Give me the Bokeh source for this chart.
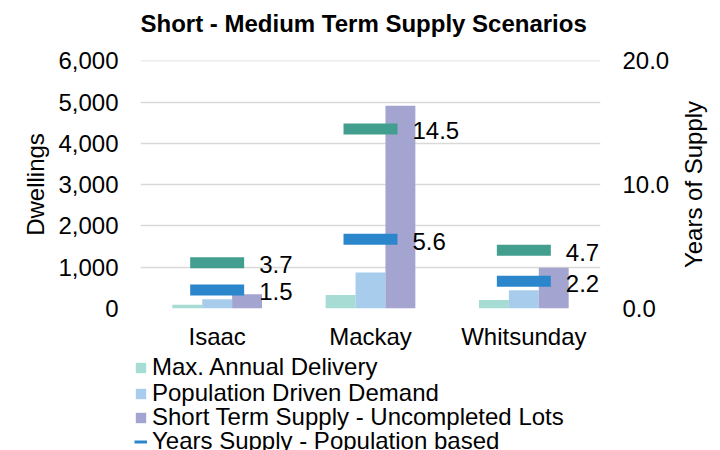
import math
from bokeh.plotting import figure
from bokeh.models import (FactorRange, Range1d, LinearAxis, FixedTicker, Label, Title,
                          NumeralTickFormatter, Legend, LegendItem, ColumnDataSource)
from bokeh.transform import dodge
from bokeh.core.properties import value
from bokeh.embed import file_html
from bokeh.resources import INLINE

# ---------------- data ----------------
councils = ["Isaac", "Mackay", "Whitsunday"]
max_annual_delivery = [90, 330, 205]
population_driven_demand = [225, 870, 440]
short_term_supply = [345, 4910, 985]
years_supply_population = [1.5, 5.6, 2.2]
years_supply_max_delivery = [3.7, 14.5, 4.7]
dwelling_ticks = [0, 1000, 2000, 3000, 4000, 5000, 6000]
years_ticks = [0, 10, 20]

chart_title = "Short - Medium Term Supply Scenarios"
series_names = ["Max. Annual Delivery", "Population Driven Demand",
                "Short Term Supply - Uncompleted Lots",
                "Years Supply - Population based"]

# ---------------- style ----------------
FONT = "Liberation Sans"
FS = "24px"
TXT = "#000000"
C_MAX = "#A6DCD4"
C_POP = "#A8CDEC"
C_SHORT = "#A3A5D0"
C_YPOP = "#2B86CC"
C_YMAX = "#429E8F"
TOP_PAD = 1.0015  # tiny headroom so the top gridline is not clipped
W = 720
H_CHART = 354
H_LEG = 96

p = figure(frame_width=460, frame_height=248, x_range=FactorRange(factors=councils),
           y_range=Range1d(0, 6000 * TOP_PAD), output_backend="svg",
           toolbar_location=None, title=None,
           min_border_left=140, min_border_right=W - 600, min_border_top=60,
           min_border_bottom=H_CHART - 308)
p.extra_y_ranges = {"years": Range1d(0, 20 * TOP_PAD)}
p.outline_line_color = None
p.background_fill_color = "white"
p.border_fill_color = "white"

# title: an empty spacer next to the frame, then the real title above it
spacer = Title(text=" ", text_font=FONT, text_font_size="20px", standoff=0)
p.add_layout(spacer, "above")
main_title = Title(text=chart_title, align="left", offset=0, vertical_align="bottom",
                   standoff=0, text_font=FONT, text_font_size=FS,
                   text_font_style="bold", text_color=TXT)
p.add_layout(main_title, "above")

src = ColumnDataSource(dict(
    council=councils,
    maxd=max_annual_delivery,
    pop=population_driven_demand,
    short=short_term_supply,
    ypop=years_supply_population,
    ymax=years_supply_max_delivery,
    ypop_txt=[f"{v:.1f}" for v in years_supply_population],
    ymax_txt=[f"{v:.1f}" for v in years_supply_max_delivery],
))

BW = 0.195
p.vbar(x=dodge("council", -BW, range=p.x_range), top="maxd", width=BW,
       source=src, fill_color=C_MAX, line_color=None)
p.vbar(x=dodge("council", 0, range=p.x_range), top="pop", width=BW,
       source=src, fill_color=C_POP, line_color=None)
p.vbar(x=dodge("council", BW, range=p.x_range), top="short", width=BW,
       source=src, fill_color=C_SHORT, line_color=None)

# years-of-supply markers (dash markers)
p.rect(x="council", y="ymax", width=0.352, height=11, height_units="screen",
       source=src, fill_color=C_YMAX, line_color=None, y_range_name="years")
p.rect(x="council", y="ypop", width=0.352, height=11, height_units="screen",
       source=src, fill_color=C_YPOP, line_color=None, y_range_name="years")

for col in ("ymax", "ypop"):
    p.text(x="council", y=col, text=col + "_txt", source=src, y_range_name="years",
           x_offset=42, y_offset=2, text_align="left", text_baseline="middle",
           text_font=value(FONT), text_font_size=FS, text_color=TXT)

# axes
p.yaxis.ticker = FixedTicker(ticks=dwelling_ticks)
p.yaxis.formatter = NumeralTickFormatter(format="0,0")
p.yaxis.axis_label = "Dwellings"

right = LinearAxis(y_range_name="years", ticker=FixedTicker(ticks=years_ticks),
                   formatter=NumeralTickFormatter(format="0.0"))
p.add_layout(right, "right")

for ax in (p.xaxis[0], p.yaxis[0], right):
    ax.axis_line_color = None
    ax.major_tick_line_color = None
    ax.minor_tick_line_color = None
    ax.major_tick_out = 0
    ax.major_tick_in = 0
    ax.major_label_text_font = FONT
    ax.major_label_text_font_size = FS
    ax.major_label_text_color = TXT
    ax.axis_label_text_font = FONT
    ax.axis_label_text_font_size = FS
    ax.axis_label_text_font_style = "normal"
    ax.axis_label_text_color = TXT

p.yaxis[0].major_label_standoff = 22
p.yaxis[0].axis_label_standoff = 6
right.major_label_standoff = 22
p.xaxis[0].major_label_standoff = 14

# secondary axis title, reading bottom-to-top, centred on the plot area
right_title = Label(text="Years of Supply", x=21, y=124, x_units="screen",
                    y_units="screen", angle=math.pi / 2, text_align="center",
                    text_baseline="middle", text_font=FONT, text_font_size=FS,
                    text_color=TXT)
p.add_layout(right_title, "right")

p.xgrid.visible = False
p.ygrid.ticker = FixedTicker(ticks=dwelling_ticks)
p.ygrid.grid_line_color = "#D9D9D9"
p.ygrid.grid_line_width = 1.5

# ---------------- legend strip below the chart ----------------
leg = figure(width=W, height=H_LEG, x_range=Range1d(0, 1), y_range=Range1d(0, 1),
             x_axis_type=None, y_axis_type=None, output_backend="svg",
             toolbar_location=None, min_border=0, title=None)
leg.grid.visible = False
leg.outline_line_color = None
leg.background_fill_color = "white"
leg.border_fill_color = "white"

# zero-size proxies (outside the strip's ranges) that only supply legend swatches
l_max = leg.vbar(x=[-1], top=[0], width=0, fill_color=C_MAX, line_color=None)
l_pop = leg.vbar(x=[-1], top=[0], width=0, fill_color=C_POP, line_color=None)
l_short = leg.vbar(x=[-1], top=[0], width=0, fill_color=C_SHORT, line_color=None)
l_ypop = leg.line(x=[-1, -1], y=[0, 0], line_color=C_YPOP, line_width=3)

row_offsets = [69, 43, 19, -5]
for name, rend, vy in zip(series_names, [l_max, l_pop, l_short, l_ypop], row_offsets):
    lg = Legend(items=[LegendItem(label=name, renderers=[rend])], location=(134, vy))
    lg.border_line_color = None
    lg.background_fill_alpha = 0
    lg.padding = 0
    lg.margin = 0
    lg.spacing = 0
    lg.glyph_width = 13
    lg.glyph_height = 13
    lg.label_standoff = 5
    lg.label_text_font = FONT
    lg.label_text_font_size = FS
    lg.label_text_color = TXT
    leg.add_layout(lg, "center")

open("out.html", "w").write(file_html([p, leg], INLINE))
